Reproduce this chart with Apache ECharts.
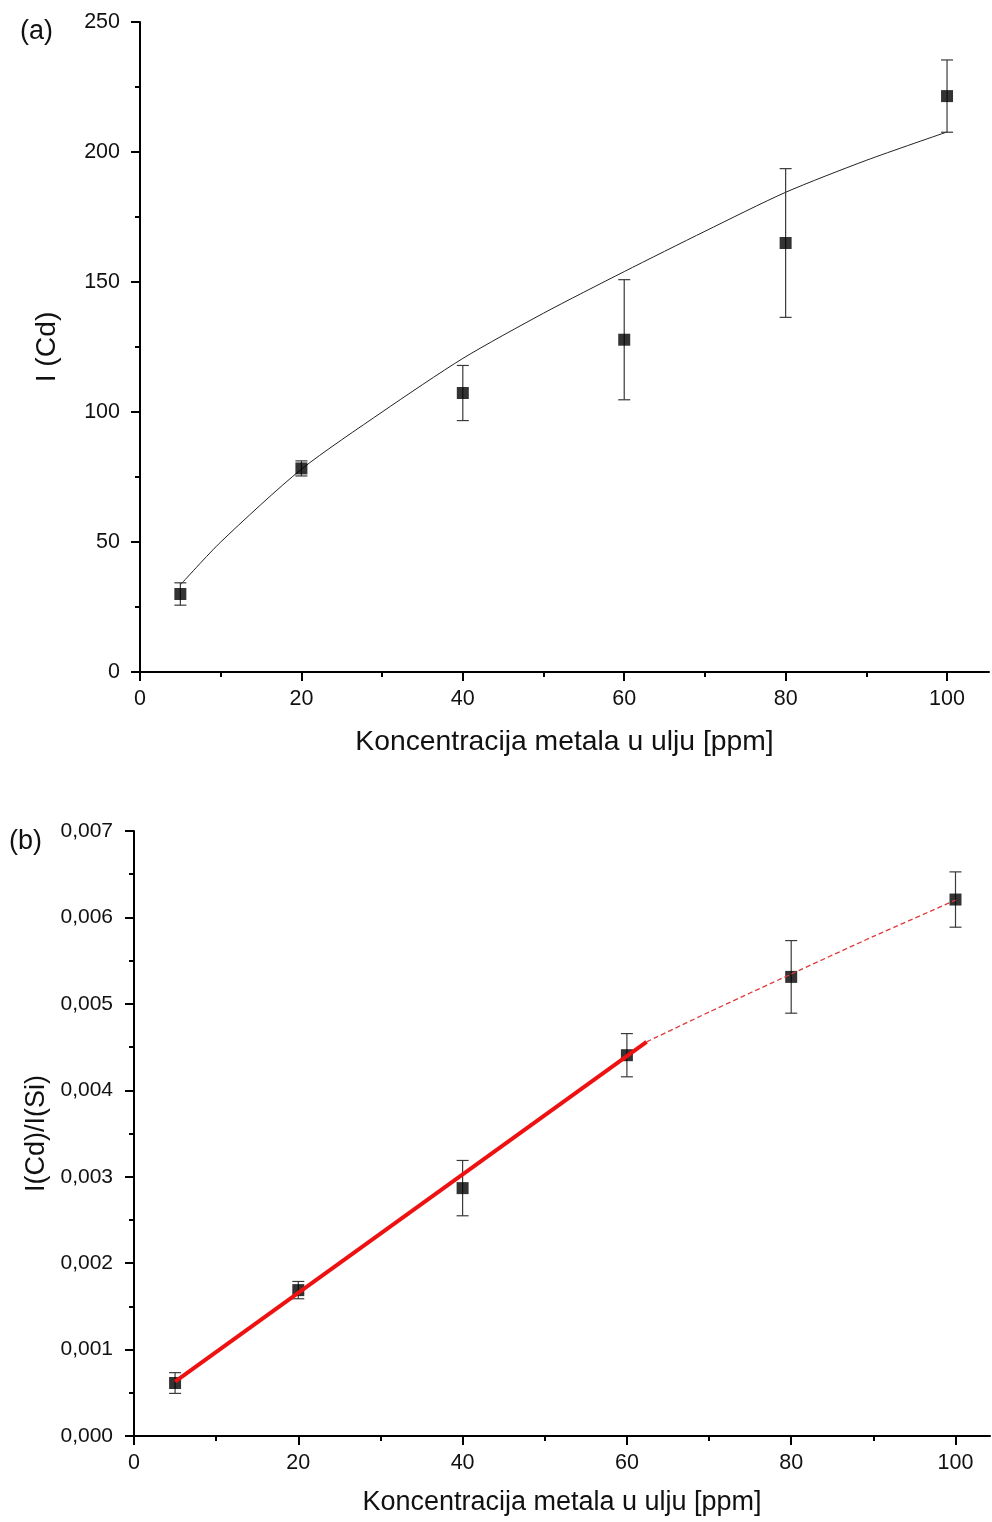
<!DOCTYPE html>
<html>
<head>
<meta charset="utf-8">
<script src="https://cdn.jsdelivr.net/npm/echarts@6/dist/echarts.min.js"></script>
<style>
html,body{margin:0;padding:0;background:#fff;}
#chart{width:992px;height:1522px;}
</style>
</head>
<body>
<div id="chart"></div>
<script>
// ---------- Data: panel (a) ----------
const concA = [5, 20, 40, 60, 80, 100];
const intensA = [30.0, 78.3, 107.3, 127.8, 165.0, 221.5];
const errA = [4.3, 2.9, 10.6, 23.1, 28.6, 13.9];
const fitAX = [5, 10, 20, 30, 40, 50, 60, 70, 80, 90, 100];
const fitAY = [33.5, 50, 78, 100, 120.6, 138, 154, 169.5, 184.5, 196.8, 207.7];

// ---------- Data: panel (b) ----------
const concB = [5, 20, 40, 60, 80, 100];
const ratioB = [0.000613, 0.001688, 0.002868, 0.004406, 0.005312, 0.006207];
const errB = [0.00012, 0.0001, 0.00032, 0.00025, 0.00042, 0.00032];
const linBX = [5, 62.4];
const linBY = [0.00063, 0.00456];
const dashBX = [62.4, 70, 80, 90, 100];
const dashBY = [0.00456, 0.004905, 0.005345, 0.00578, 0.0062];

// ---------- Ticks / labels ----------
const xTicks = [0, 20, 40, 60, 80, 100];
const xTitle = 'Koncentracija metala u ulju [ppm]';
const yTitleA = 'I (Cd)';
const yTitleB = 'I(Cd)/I(Si)';
const panelA = '(a)';
const panelB = '(b)';

const FONT = '"Liberation Sans", Arial, sans-serif';
const zip = (xs, ys) => xs.map((x, i) => [x, ys[i]]);
const zip3 = (xs, ys, es) => xs.map((x, i) => [x, ys[i], es[i]]);

function errRender(params, api) {
  const x = api.value(0), y = api.value(1), e = api.value(2);
  const top = api.coord([x, y + e]);
  const bot = api.coord([x, y - e]);
  const hw = 6;
  const st = { stroke: '#3a3a3a', lineWidth: 1.2 };
  return {
    type: 'group',
    children: [
      { type: 'line', shape: { x1: top[0], y1: top[1], x2: bot[0], y2: bot[1] }, style: st },
      { type: 'line', shape: { x1: top[0] - hw, y1: top[1], x2: top[0] + hw, y2: top[1] }, style: st },
      { type: 'line', shape: { x1: bot[0] - hw, y1: bot[1], x2: bot[0] + hw, y2: bot[1] }, style: st }
    ]
  };
}

const axisLineStyle = { color: '#000', width: 2 };
function xAxisCfg(gridIndex, max, nameGap, nameSize) {
  return {
    type: 'value', gridIndex, min: 0, max, interval: 20,
    name: xTitle, nameLocation: 'middle', nameGap,
    nameTextStyle: { fontFamily: FONT, fontSize: nameSize, color: '#111' },
    axisLine: { show: true, lineStyle: axisLineStyle },
    axisTick: { show: true, length: 9, lineStyle: { color: '#000', width: 2 }, customValues: xTicks },
    minorTick: { show: true, splitNumber: 2, length: 5, lineStyle: { color: '#000', width: 2 } },
    axisLabel: { customValues: xTicks, fontFamily: FONT, fontSize: 21.5, color: '#111', margin: 16 },
    splitLine: { show: false }, minorSplitLine: { show: false }
  };
}

const chart = echarts.init(document.getElementById('chart'), null, { renderer: 'canvas' });
chart.setOption({
  animation: false,
  backgroundColor: '#fff',
  graphic: [
    { type: 'text', left: 20, top: 18, style: { text: panelA, font: '27px ' + FONT, fill: '#111' } },
    { type: 'text', left: 9, top: 828, style: { text: panelB, font: '27px ' + FONT, fill: '#111' } }
  ],
  grid: [
    { left: 140, top: 22, width: 849, height: 650 },
    { left: 134, top: 831, width: 856, height: 605 }
  ],
  xAxis: [
    xAxisCfg(0, 105.2, 56, 28.3),
    xAxisCfg(1, 104.2, 53, 27)
  ],
  yAxis: [
    {
      type: 'value', gridIndex: 0, min: 0, max: 250, interval: 50,
      name: yTitleA, nameLocation: 'middle', nameGap: 79,
      nameTextStyle: { fontFamily: FONT, fontSize: 28.3, color: '#111' },
      axisLine: { show: true, lineStyle: axisLineStyle },
      axisTick: { show: true, length: 9, lineStyle: { color: '#000', width: 2 } },
      minorTick: { show: true, splitNumber: 2, length: 5, lineStyle: { color: '#000', width: 2 } },
      axisLabel: { fontFamily: FONT, fontSize: 21.5, color: '#111', margin: 20 },
      splitLine: { show: false }
    },
    {
      type: 'value', gridIndex: 1, min: 0, max: 0.007, interval: 0.001,
      name: yTitleB, nameLocation: 'middle', nameGap: 81,
      nameTextStyle: { fontFamily: FONT, fontSize: 27, color: '#111' },
      axisLine: { show: true, lineStyle: axisLineStyle },
      axisTick: { show: true, length: 9, lineStyle: { color: '#000', width: 2 } },
      minorTick: { show: true, splitNumber: 2, length: 5, lineStyle: { color: '#000', width: 2 } },
      axisLabel: {
        fontFamily: FONT, fontSize: 21, color: '#111', margin: 21,
        formatter: v => v.toFixed(3).replace('.', ',')
      },
      splitLine: { show: false }
    }
  ],
  series: [
    // panel (a)
    {
      type: 'line', xAxisIndex: 0, yAxisIndex: 0, data: zip(fitAX, fitAY),
      smooth: 0.25, symbol: 'none', lineStyle: { color: '#222', width: 1 }, z: 2
    },
    {
      type: 'custom', xAxisIndex: 0, yAxisIndex: 0, data: zip3(concA, intensA, errA),
      renderItem: errRender, z: 3
    },
    {
      type: 'scatter', xAxisIndex: 0, yAxisIndex: 0, data: zip(concA, intensA),
      symbol: 'rect', symbolSize: 12, itemStyle: { color: '#000' }, z: 4
    },
    // panel (b)
    {
      type: 'custom', xAxisIndex: 1, yAxisIndex: 1, data: zip3(concB, ratioB, errB),
      renderItem: errRender, z: 2
    },
    {
      type: 'scatter', xAxisIndex: 1, yAxisIndex: 1, data: zip(concB, ratioB),
      symbol: 'rect', symbolSize: 12, itemStyle: { color: '#000' }, z: 3
    },
    {
      type: 'line', xAxisIndex: 1, yAxisIndex: 1, data: zip(linBX, linBY),
      symbol: 'none', lineStyle: { color: '#ee1111', width: 4 }, z: 4
    },
    {
      type: 'line', xAxisIndex: 1, yAxisIndex: 1, data: zip(dashBX, dashBY),
      smooth: 0.2, symbol: 'none', lineStyle: { color: '#e03a3a', width: 1.3, type: [5, 3] }, z: 4
    }
  ]
});
</script>
</body>
</html>
